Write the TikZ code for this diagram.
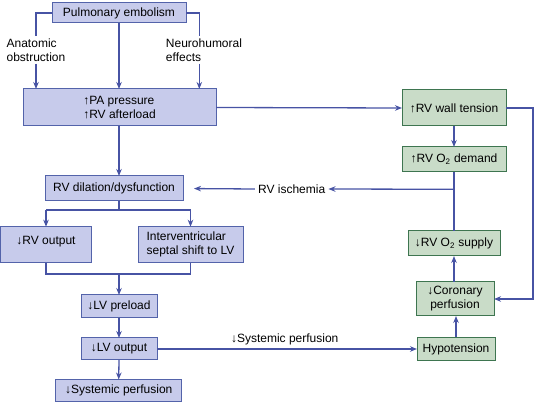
\documentclass[tikz,border=0pt]{standalone}
\usepackage{fontspec}
\setmainfont{Liberation Sans}
\usetikzlibrary{arrows.meta,calc}
\definecolor{lc}{HTML}{4753A4}
\definecolor{bfill}{HTML}{C7CBEB}
\definecolor{bdraw}{HTML}{5363AA}
\definecolor{gfill}{HTML}{C9DCC8}
\definecolor{gdraw}{HTML}{3E7550}
\begin{document}
\begin{tikzpicture}[x=1pt,y=-1pt, font=\fontsize{12}{14}\selectfont,
  bbox/.style={draw=bdraw, fill=bfill, line width=1pt, inner sep=0pt, outer sep=0pt},
  gbox/.style={draw=gdraw, fill=gfill, line width=1pt, inner sep=0pt, outer sep=0pt},
  lbl/.style={inner sep=2pt, align=left},
  conn/.style={draw=lc, line width=1.3pt},
  arr/.style={conn, -{Stealth[length=7pt,width=5.5pt]}}]
\useasboundingbox (0,0) rectangle (536,403);
% left column
\node[bbox, minimum width=134pt, minimum height=20pt] (pe) at (119,13) {Pulmonary embolism};
\node[lbl] (anat) at (36,50) {Anatomic\\obstruction};
\node[lbl] (neuro) at (204,50) {Neurohumoral\\effects};
\node[bbox, minimum width=193pt, minimum height=37pt, align=left] (pa) at (119.5,107.5) {↑PA pressure\\↑RV afterload};
\node[bbox, minimum width=138pt, minimum height=25pt] (rvd) at (114,188.5) {RV dilation/dysfunction};
\node[bbox, minimum width=91pt, minimum height=36pt, text height=10pt, text depth=10pt] (rvo) at (46,244.7) {↓RV output};
\node[bbox, minimum width=105pt, minimum height=36pt, align=left] (sep) at (190.5,244.7) {Interventricular\\septal shift to LV};
\node[bbox, minimum width=76pt, minimum height=23pt] (lvp) at (119,306.5) {↓LV preload};
\node[bbox, minimum width=76pt, minimum height=22pt] (lvo) at (119,349) {↓LV output};
\node[bbox, minimum width=126pt, minimum height=22pt] (sp) at (118.7,390.5) {↓Systemic perfusion};
% right column
\node[gbox, minimum width=104pt, minimum height=36pt] (rwt) at (454,108) {↑RV wall tension};
\node[gbox, minimum width=104pt, minimum height=25pt] (rod) at (454,159.5) {↑RV O\textsubscript{2} demand};
\node[gbox, minimum width=92pt, minimum height=25pt] (ros) at (454,243.5) {↓RV O\textsubscript{2} supply};
\node[gbox, minimum width=78pt, minimum height=34pt, align=center] (cp) at (455,299) {↓Coronary\\perfusion};
\node[gbox, minimum width=78pt, minimum height=23pt] (hyp) at (456,349) {Hypotension};
% labels
\node[inner sep=3pt] (rvi) at (291.7,189) {RV ischemia};
\node[inner sep=0pt] (sysl) at (284.7,339) {↓Systemic perfusion};
% coordinates
\coordinate (lx) at (36,0);
\coordinate (rx) at (199.3,0);
\coordinate (jn) at (454,189.3);
\coordinate (rr) at (533,0);
\coordinate (sj) at (119,210);
\coordinate (mj) at (119,274);
% connectors
\draw[conn] (pe.west) -| (lx |- anat.north);
\draw[arr] (lx |- anat.south) -- (lx |- pa.north);
\draw[conn] (pe.east) -| (rx |- neuro.north);
\draw[arr] (rx |- neuro.south) -- (rx |- pa.north);
\draw[arr] (pe.south) -- (pe.south |- pa.north);
\draw[arr] (pa.east) -- (rwt.west);
\draw[arr] (sj |- pa.south) -- (sj |- rvd.north);
\draw[conn] (sj |- rvd.south) -- (sj);
\draw[conn] (sj -| rvo.north) -- (sj -| sep.north);
\draw[arr] (sj -| sep.north) -- (sep.north);
\draw[arr] (sj -| rvo.north) -- (rvo.north);
\draw[conn] (rvo.south) |- (mj) -| (sep.south);
\draw[arr] (mj) -- (lvp.north);
\draw[arr] (lvp.south) -- (lvo.north);
\draw[arr] (lvo.south) -- (sp.north);
\draw[arr] (lvo.east) -- (hyp.west);
\draw[arr] (hyp.north) -- (hyp.north |- cp.south);
\draw[arr] (cp.north -| ros.south) -- (ros.south);
\draw[arr] (rwt.south) -- (rod.north);
\draw[conn] (rod.south) -- (ros.north);
\draw[arr] (jn) -- (rvi.east);
\draw[arr, shorten >=11pt] (rvi.west) -- (rvd.east);
\draw[arr] (rwt.east) -| (rr |- cp.east) -- (cp.east);
\end{tikzpicture}
\end{document}
